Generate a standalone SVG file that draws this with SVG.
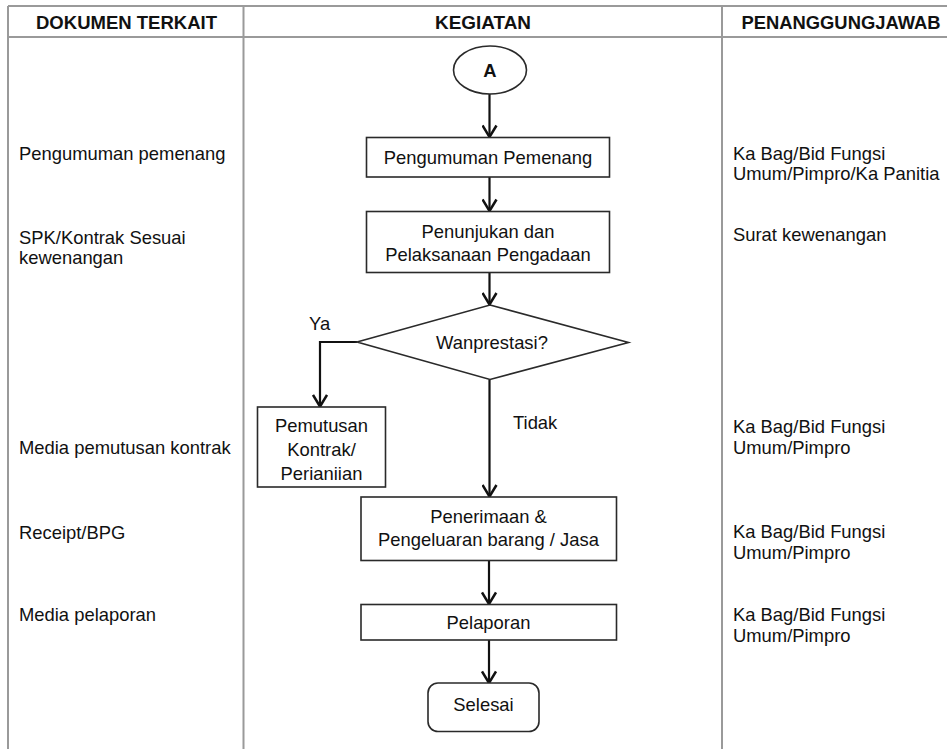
<svg xmlns="http://www.w3.org/2000/svg" width="947" height="749" viewBox="0 0 947 749">
<style>
.grid{stroke:#9a9a9a;stroke-width:2;fill:none}
.hd{font-family:"Liberation Sans",Arial,sans-serif;font-weight:bold;font-size:17.5px;fill:#111;text-anchor:middle}
.t{font-family:"Liberation Sans",Arial,sans-serif;font-size:18.4px;fill:#111}
.c{text-anchor:middle}
.box{fill:#fff;stroke:#2a2a2a;stroke-width:1.6}
.ln{fill:none;stroke:#111;stroke-width:2.2}
</style>
<defs>
<marker id="ah" viewBox="0 0 15 16" refX="13" refY="8" markerWidth="15" markerHeight="16" markerUnits="userSpaceOnUse" orient="auto">
<path d="M1.5,1 L13,8 L1.5,15" fill="none" stroke="#111" stroke-width="2.5"/>
</marker>
</defs>
<rect width="947" height="749" fill="#fff"/>
<g id="table">
<line class="grid" x1="8" y1="6" x2="947" y2="6"/>
<line class="grid" x1="8" y1="37" x2="947" y2="37"/>
<line class="grid" x1="8" y1="6" x2="8" y2="749"/>
<line class="grid" x1="243.5" y1="6" x2="243.5" y2="749"/>
<line class="grid" x1="722" y1="6" x2="722" y2="749"/>
<text class="hd" x="126.5" y="28.8" textLength="181" lengthAdjust="spacingAndGlyphs">DOKUMEN TERKAIT</text>
<text class="hd" x="483" y="28.8" textLength="96" lengthAdjust="spacingAndGlyphs">KEGIATAN</text>
<text class="hd" x="841" y="28.8" textLength="199" lengthAdjust="spacingAndGlyphs">PENANGGUNGJAWAB</text>
</g>
<g id="dokumen">
<text class="t" x="19" y="159.5">Pengumuman pemenang</text>
<text class="t" x="19" y="243.5">SPK/Kontrak Sesuai</text>
<text class="t" x="19" y="264">kewenangan</text>
<text class="t" x="19" y="454">Media pemutusan kontrak</text>
<text class="t" x="19" y="539">Receipt/BPG</text>
<text class="t" x="19" y="621">Media pelaporan</text>
</g>
<g id="penanggungjawab">
<text class="t" x="733" y="159.5">Ka Bag/Bid Fungsi</text>
<text class="t" x="733" y="180">Umum/Pimpro/Ka Panitia</text>
<text class="t" x="733" y="241">Surat kewenangan</text>
<text class="t" x="733" y="433">Ka Bag/Bid Fungsi</text>
<text class="t" x="733" y="454">Umum/Pimpro</text>
<text class="t" x="733" y="538">Ka Bag/Bid Fungsi</text>
<text class="t" x="733" y="559">Umum/Pimpro</text>
<text class="t" x="733" y="621">Ka Bag/Bid Fungsi</text>
<text class="t" x="733" y="642">Umum/Pimpro</text>
</g>
<g id="connectors">
<line class="ln" x1="489.5" y1="94" x2="489.5" y2="137" marker-end="url(#ah)"/>
<line class="ln" x1="489.5" y1="177" x2="489.5" y2="211" marker-end="url(#ah)"/>
<line class="ln" x1="489.5" y1="272" x2="489.5" y2="304.5" marker-end="url(#ah)"/>
<polyline class="ln" points="357,342 320,342 320,406.5" marker-end="url(#ah)"/>
<line class="ln" x1="489.5" y1="379.5" x2="489.5" y2="496.5" marker-end="url(#ah)"/>
<line class="ln" x1="489" y1="561" x2="489" y2="604" marker-end="url(#ah)"/>
<line class="ln" x1="489" y1="640" x2="489" y2="683" marker-end="url(#ah)"/>
<text class="t" x="309" y="329.5">Ya</text>
<text class="t" x="513" y="428.5">Tidak</text>
</g>
<g id="node-a">
<ellipse class="box" cx="490" cy="70" rx="36.5" ry="24"/>
<text class="t c" x="490" y="77" font-weight="bold" font-size="17">A</text>
</g>
<g id="node-pengumuman">
<rect class="box" x="366.5" y="137.5" width="243" height="39.5"/>
<text class="t c" x="488" y="163.5">Pengumuman Pemenang</text>
</g>
<g id="node-penunjukan">
<rect class="box" x="366.5" y="211.5" width="243" height="61"/>
<text class="t c" x="488" y="237.5">Penunjukan dan</text>
<text class="t c" x="488" y="260.5">Pelaksanaan Pengadaan</text>
</g>
<g id="node-wanprestasi">
<polygon class="box" points="490,305 628.5,342.5 490,379.5 357,342"/>
<text class="t c" x="492" y="349" font-size="16.5">Wanprestasi?</text>
</g>
<g id="node-pemutusan">
<rect class="box" x="257.5" y="407" width="128" height="80"/>
<text class="t c" x="321.5" y="431.5">Pemutusan</text>
<text class="t c" x="321.5" y="455.5">Kontrak/</text>
<text class="t c" x="321.5" y="480">Perianiian</text>
</g>
<g id="node-penerimaan">
<rect class="box" x="361" y="497" width="255.5" height="63.5"/>
<text class="t c" x="488.5" y="522.5">Penerimaan &amp;</text>
<text class="t c" x="488.5" y="545.5">Pengeluaran barang / Jasa</text>
</g>
<g id="node-pelaporan">
<rect class="box" x="361" y="604.5" width="255.5" height="35.5"/>
<text class="t c" x="488.5" y="628.5">Pelaporan</text>
</g>
<g id="node-selesai">
<rect class="box" x="428" y="683" width="111" height="48.5" rx="10"/>
<text class="t c" x="483.5" y="710.5">Selesai</text>
</g>
</svg>
